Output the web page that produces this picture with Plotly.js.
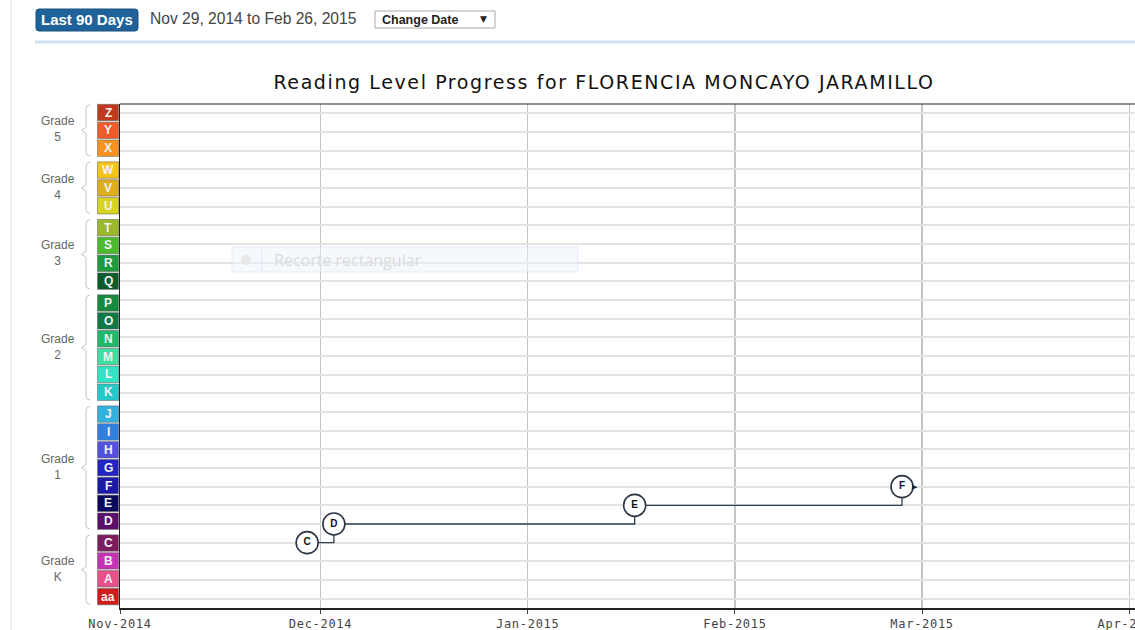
<!DOCTYPE html>
<html>
<head>
<meta charset="utf-8">
<script src="https://cdn.plot.ly/plotly-3.0.1.min.js"></script>
<style>
  html, body { margin: 0; padding: 0; background: #fff; overflow: hidden; width: 1135px; height: 630px; }
  #chart { width: 1200px; height: 630px; }
  .gtitle { letter-spacing: 1.6px; }
  .xtick text { letter-spacing: 0.7px; }
</style>
</head>
<body>
<div id="chart"></div>
<script>
// ---- data ----
const levels = ['aa','A','B','C','D','E','F','G','H','I','J','K','L','M','N','O','P','Q','R','S','T','U','V','W','X','Y','Z'];
const levelColors = ['#cf1d1d','#e8508a','#c533b5','#7d1d5e','#5c0f6b','#0b0b5e','#1b1ba8','#2424c4','#5252de','#2f80e0','#34b1df',
                     '#24c9c9','#2fe3c3','#3fdea2','#20b86b','#0f7a46','#178a3d','#0d5c2b','#1f9a3c','#4dba2d','#9ab928',
                     '#d6d41e','#dfae1f','#f5c419','#f7931e','#f05a29','#bf3a1c'];
const gradeNames = ['K','1','2','3','4','5'];
const gradeSizes = [4, 7, 6, 4, 3, 3];
const testDates = ['2014-11-29','2014-12-03','2015-01-17','2015-02-26'];
const testLevels = ['C','D','E','F'];
const xTickFormat = '%b-%Y';

// ---- geometry helpers ----
const W = 1200, H = 630, L = 120, T = 104, PH = 504, PW = W - L;
const px = v => (v - L) / PW;
const py = v => (T + PH - v) / PH;

const shapes = [];
const annotations = [];

// level chips with grade gaps (top = Z)
const pitch = 17.85, gap = 4, chipH = 16.4;
let yTop = 104.3;
const order = levels.slice().reverse();
const gradeTopDown = gradeSizes.slice().reverse();
const gradeNamesTop = gradeNames.slice().reverse();
let idx = 0;
gradeTopDown.forEach((n, g) => {
  const gStart = yTop;
  for (let k = 0; k < n; k++) {
    const lv = order[idx];
    const col = levelColors[levels.indexOf(lv)];
    shapes.push({type:'rect', xref:'paper', yref:'paper', x0:px(97.5), x1:px(118.5), y0:py(yTop), y1:py(yTop+chipH),
                 fillcolor: col, line:{color:'rgba(90,90,90,0.5)', width:1}, layer:'above'});
    annotations.push({xref:'paper', yref:'paper', x:px(108), y:py(yTop + chipH/2), text:'<b>'+lv+'</b>', showarrow:false,
                      font:{family:'Liberation Sans, Arial', size:12, color:'#f2f2f2'}, xanchor:'center', yanchor:'middle'});
    yTop += pitch; idx++;
  }
  const gEnd = yTop - (pitch - chipH);
  const mid = (gStart + gEnd) / 2;
  const a = gStart + 0.5, b = gEnd - 0.5;
  const path = `M ${px(90)} ${py(a)} Q ${px(86)} ${py(a)} ${px(86)} ${py(a+4)} L ${px(86)} ${py(mid-3)} L ${px(81.5)} ${py(mid)} L ${px(86)} ${py(mid+3)} L ${px(86)} ${py(b-4)} Q ${px(86)} ${py(b)} ${px(90)} ${py(b)}`;
  shapes.push({type:'path', xref:'paper', yref:'paper', path:path, line:{color:'#c4c4c4', width:1}});
  annotations.push({xref:'paper', yref:'paper', x:px(57.5), y:py(mid-1), text:'Grade<br>'+gradeNamesTop[g], showarrow:false,
                    font:{family:'Liberation Sans, Arial', size:12, color:'#666'}, xanchor:'center', yanchor:'middle', align:'center'});
  yTop += gap;
});

// header decorations
shapes.push({type:'line', xref:'paper', yref:'paper', x0:px(11), x1:px(11), y0:py(0), y1:py(630), line:{color:'#e2e2e2', width:1}});
shapes.push({type:'line', xref:'paper', yref:'paper', x0:px(35), x1:px(1200), y0:py(42), y1:py(42), line:{color:'#cfe1f2', width:3}});
shapes.push({type:'path', xref:'paper', yref:'paper', fillcolor:'#1f6199', line:{color:'#1a5280', width:1},
  path:`M ${px(39)} ${py(9)} L ${px(135)} ${py(9)} Q ${px(138)} ${py(9)} ${px(138)} ${py(12)} L ${px(138)} ${py(28)} Q ${px(138)} ${py(31)} ${px(135)} ${py(31)} L ${px(39)} ${py(31)} Q ${px(36)} ${py(31)} ${px(36)} ${py(28)} L ${px(36)} ${py(12)} Q ${px(36)} ${py(9)} ${px(39)} ${py(9)} Z`});
annotations.push({xref:'paper', yref:'paper', x:px(87), y:py(19.5), text:'<b>Last 90 Days</b>', showarrow:false,
  font:{family:'Liberation Sans, Arial', size:15, color:'#ffffff'}, xanchor:'center', yanchor:'middle'});
annotations.push({xref:'paper', yref:'paper', x:px(148), y:py(19), text:'Nov 29, 2014 to Feb 26, 2015', showarrow:false,
  font:{family:'Liberation Sans, Arial', size:15.6, color:'#444'}, xanchor:'left', yanchor:'middle'});
shapes.push({type:'rect', xref:'paper', yref:'paper', x0:px(375), x1:px(495), y0:py(11), y1:py(28), fillcolor:'#ffffff', line:{color:'#a8a8a8', width:1}});
annotations.push({xref:'paper', yref:'paper', x:px(380), y:py(20), text:'Change Date', showarrow:false,
  font:{family:'Liberation Sans, Arial', size:12.5, color:'#222', weight:600}, xanchor:'left', yanchor:'middle'});
annotations.push({xref:'paper', yref:'paper', x:px(483), y:py(19.5), text:'▼', showarrow:false,
  font:{family:'DejaVu Sans', size:9, color:'#222'}, xanchor:'center', yanchor:'middle'});

// faint screen-clip overlay
shapes.push({type:'rect', xref:'paper', yref:'paper', x0:px(232), x1:px(578), y0:py(247), y1:py(272),
  fillcolor:'rgba(236,243,251,0.55)', line:{color:'rgba(215,228,242,0.6)', width:1}});
shapes.push({type:'line', xref:'paper', yref:'paper', x0:px(262), x1:px(262), y0:py(248), y1:py(271), line:{color:'rgba(220,230,240,0.8)', width:1}});
shapes.push({type:'circle', xref:'paper', yref:'paper', x0:px(241), x1:px(251), y0:py(255), y1:py(265), fillcolor:'#e8e8e8', line:{width:0}});
annotations.push({xref:'paper', yref:'paper', x:px(272), y:py(260), text:'Recorte rectangular', showarrow:false,
  font:{family:'Open Sans, Noto Sans', size:16, color:'#dcdcdc'}, xanchor:'left', yanchor:'middle'});

// top border of plot
shapes.push({type:'line', xref:'paper', yref:'paper', x0:0, x1:1, y0:1, y1:1, line:{color:'#222', width:1}});

// indicator on last point
const yVals = testLevels.map(l => levels.indexOf(l));
annotations.push({x:testDates[testDates.length-1], y:yVals[yVals.length-1], xref:'x', yref:'y', text:'▶', showarrow:false,
  xshift:13, font:{family:'DejaVu Sans', size:7, color:'#1a2533'}, xanchor:'center', yanchor:'middle'});

const trace = {
  x: testDates, y: yVals, text: testLevels, type:'scatter', mode:'lines+markers+text',
  line:{shape:'hv', color:'#2e3f52', width:1.3},
  marker:{symbol:'circle', size:22, color:'#ffffff', line:{color:'#2b3440', width:1.6}},
  texttemplate:'<b>%{text}</b>', textposition:'middle center',
  textfont:{family:'Liberation Sans, Arial', size:10, color:'#111'},
  hoverinfo:'skip', cliponaxis:false
};

const layout = {
  width: W, height: H,
  margin:{l:L, r:0, t:T, b:H-T-PH, pad:0},
  paper_bgcolor:'#ffffff', plot_bgcolor:'#ffffff',
  showlegend:false,
  title:{text:'Reading Level Progress for FLORENCIA MONCAYO JARAMILLO', x:604/W, xref:'container', xanchor:'center',
         y:1-82/H, yref:'container', yanchor:'middle', font:{family:'DejaVu Sans, Verdana', size:19, color:'#111'}},
  xaxis:{type:'date', range:['2014-11-01','2015-04-11 14:00'], dtick:'M1', tick0:'2014-11-01', tickformat:xTickFormat,
         showgrid:true, gridcolor:'#c4c4c4', gridwidth:1.5, showline:true, linecolor:'#222', linewidth:2,
         ticks:'outside', ticklen:4, tickcolor:'#444', tickfont:{family:'DejaVu Sans Mono', size:12, color:'#444'},
         zeroline:false, fixedrange:true},
  yaxis:{range:[-0.5, 26.5], dtick:1, tick0:0, showgrid:true, gridcolor:'#e3e3e3', gridwidth:2,
         showticklabels:false, ticks:'', zeroline:false, showline:true, linecolor:'#222', linewidth:1.5, fixedrange:true},
  shapes: shapes,
  annotations: annotations
};

Plotly.newPlot('chart', [trace], layout, {displayModeBar:false, staticPlot:true});
</script>
</body>
</html>
